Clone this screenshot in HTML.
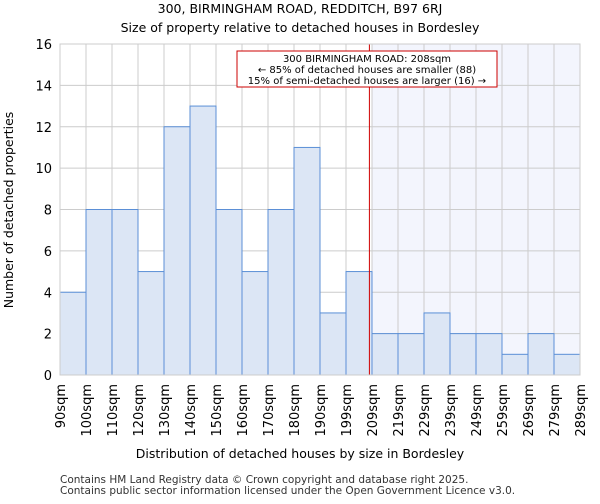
<!DOCTYPE html>
<html><head><meta charset="utf-8"><style>
body{margin:0;background:#fff;font-family:"DejaVu Sans","Liberation Sans",sans-serif;}
svg text{font-family:"DejaVu Sans","Liberation Sans",sans-serif;}
</style></head><body>
<svg id="c" width="600" height="500" xmlns="http://www.w3.org/2000/svg">
<text x="300" y="13" text-anchor="middle" font-size="12.5">300, BIRMINGHAM ROAD, REDDITCH, B97 6RJ</text>
<text x="300" y="32" text-anchor="middle" font-size="12.5">Size of property relative to detached houses in Bordesley</text>
<g id="plot"></g>
<text x="300" y="458" text-anchor="middle" font-size="12.5">Distribution of detached houses by size in Bordesley</text>
<text transform="translate(13,210) rotate(-90)" text-anchor="middle" font-size="12.5">Number of detached properties</text>
<text x="60" y="483" font-size="10.5" fill="#333">Contains HM Land Registry data © Crown copyright and database right 2025.</text>
<text x="60" y="494" font-size="10.5" fill="#333">Contains public sector information licensed under the Open Government Licence v3.0.</text>
</svg>
<script>
const binLabels=["90sqm","100sqm","110sqm","120sqm","130sqm","140sqm","150sqm","160sqm","170sqm","180sqm","190sqm","199sqm","209sqm","219sqm","229sqm","239sqm","249sqm","259sqm","269sqm","279sqm","289sqm"];
const counts=[4,8,8,5,12,13,8,5,8,11,3,5,2,2,3,2,2,1,2,1];
const yTicks=[0,2,4,6,8,10,12,14,16];
const markerBin=11.9;
const highlightStart=12;
const L=60,R=580,T=44,B=375,N=counts.length,bw=(R-L)/N;
const xs=i=>L+i*bw, ys=v=>B-(v/16)*(B-T);
const g=document.getElementById('plot');const ns='http://www.w3.org/2000/svg';
function mk(t,a){const e=document.createElementNS(ns,t);for(const k in a)e.setAttribute(k,a[k]);g.appendChild(e);return e;}
let e=mk('rect',{x:xs(highlightStart),y:T,width:R-xs(highlightStart),height:B-T,fill:'#f3f5fd'});


yTicks.forEach(v=>{let l=mk('line',{x1:L,x2:R,y1:ys(v),y2:ys(v),stroke:'#ccc'});


let t=mk('text',{x:L-8,y:ys(v)+5,'text-anchor':'end','font-size':'13'});t.textContent=v;

});
binLabels.forEach((s,i)=>{let l=mk('line',{x1:xs(i),x2:xs(i),y1:T,y2:B,stroke:'#ccc'});


let t=mk('text',{transform:`translate(${xs(i)+5},384) rotate(-90)`,'text-anchor':'end','font-size':'13'});t.textContent=s;

});
counts.forEach((v,i)=>{let r=mk('rect',{x:xs(i),y:ys(v),width:bw,height:B-ys(v),fill:'#dce6f5',stroke:'#5b8fd6','stroke-width':1});

});
let ml=mk('line',{x1:xs(markerBin),x2:xs(markerBin),y1:T,y2:B,stroke:'#d00000','stroke-width':1});


let bx=mk('rect',{x:237,y:51,width:260,height:36,fill:'#fff',stroke:'#cc0000'});


["300 BIRMINGHAM ROAD: 208sqm","← 85% of detached houses are smaller (88)","15% of semi-detached houses are larger (16) →"].forEach((s,i)=>{let t=mk('text',{x:367,y:62+i*11,'text-anchor':'middle','font-size':'10'});t.textContent=s;

});
let ax=mk('rect',{x:L,y:T,width:R-L,height:B-T,fill:'none',stroke:'#ccc'});


</script>
</body></html>
